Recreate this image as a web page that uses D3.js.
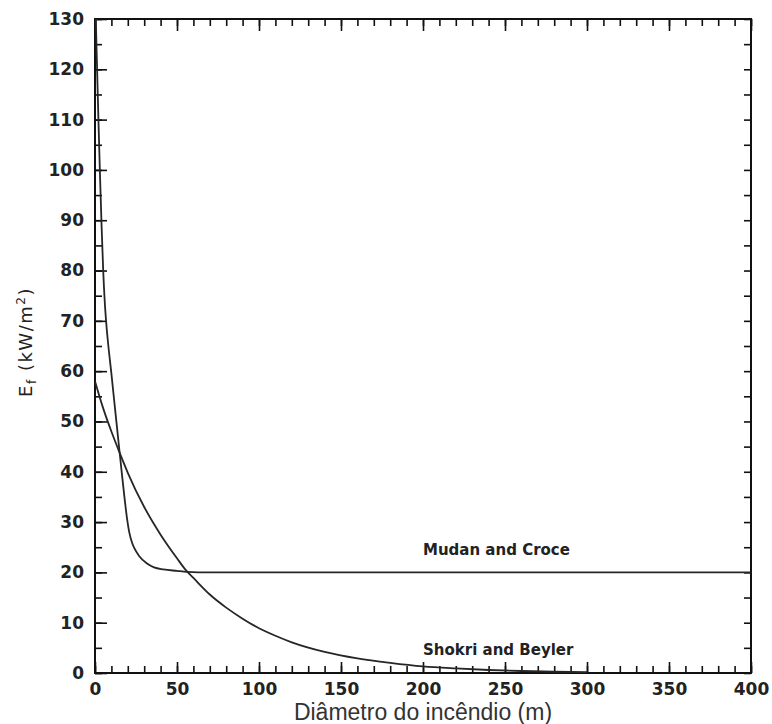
<!DOCTYPE html>
<html>
<head>
<meta charset="utf-8">
<script src="https://cdn.jsdelivr.net/npm/d3@7/dist/d3.min.js"></script>
<style>
  body { margin: 0; background: #fff; }
  .tick text { font-family: "DejaVu Sans", sans-serif; font-weight: bold; font-size: 17px; fill: #222; }
  .tick line { stroke: #111; stroke-width: 1.6; }
</style>
</head>
<body>
<div id="chart-area"></div>
<script>

// Mudan and Croce
var mudanD = [0.5, 1, 2, 3, 4, 5, 6, 7, 8, 10, 12, 14, 16, 18, 19.5, 21, 22.5, 24, 27, 31.5, 36, 41.7, 50, 56, 70, 400];
var mudanE = [130, 123.5, 111, 99.5, 89, 80, 73.5, 69, 65.5, 59.5, 53.2, 47, 40.8, 34.8, 30.8, 27.8, 26, 24.8, 23.2, 21.8, 21, 20.6, 20.3, 20.1, 20, 20];

// Shokri and Beyler
var shokriD = [0, 5, 10, 15, 20, 30, 40, 50, 55, 60, 70, 80, 90, 100, 110, 120, 140, 160, 180, 200, 220, 240, 260, 280, 300];
var shokriE = [58, 52.6, 48, 43.8, 39.8, 33, 27.5, 22.8, 20.6, 18.9, 15.6, 13, 10.8, 8.9, 7.4, 6.1, 4.2, 2.9, 2, 1.3, 0.9, 0.6, 0.4, 0.25, 0.15];

var xMajor = [0, 50, 100, 150, 200, 250, 300, 350, 400];
var xMinor = d3.range(0, 401, 10);
var yMajor = d3.range(0, 131, 10);
var yMinor = d3.range(0, 131, 5);

var labelText = ["Mudan and Croce", "Shokri and Beyler"];
var labelD = [200, 200];
var labelE = [23.5, 3.6];

var margin = { left:95, right:21, top:19, bottom:51 },
    width = 772 - margin.left - margin.right,
    height = 724 - margin.top - margin.bottom;

var svg = d3.select("#chart-area")
    .append("svg")
    .attr("width", width + margin.left + margin.right)
    .attr("height", height + margin.top + margin.bottom);

var g = svg.append("g")
    .attr("transform", "translate(" + margin.left + ", " + margin.top + ")");

var x = d3.scaleLinear().domain([0, 400]).range([0, width]);
var y = d3.scaleLinear().domain([0, 130]).range([height, 0]);

// bottom axis: minor + major (ticks point inward)
g.append("g")
    .attr("transform", "translate(0," + height + ")")
    .call(d3.axisBottom(x).tickValues(xMinor).tickSize(-7).tickFormat(""))
    .call(function(a) { a.select(".domain").remove(); });
g.append("g")
    .attr("transform", "translate(0," + height + ")")
    .call(d3.axisBottom(x).tickValues(xMajor).tickSize(-11).tickPadding(10).tickFormat(d3.format("d")))
    .call(function(a) { a.select(".domain").remove(); });

// top axis, no labels
g.append("g")
    .call(d3.axisTop(x).tickValues(xMinor).tickSize(-7).tickFormat(""))
    .call(function(a) { a.select(".domain").remove(); });
g.append("g")
    .call(d3.axisTop(x).tickValues(xMajor).tickSize(-12).tickFormat(""))
    .call(function(a) { a.select(".domain").remove(); });

// left axis
g.append("g")
    .call(d3.axisLeft(y).tickValues(yMinor).tickSize(-7).tickFormat(""))
    .call(function(a) { a.select(".domain").remove(); });
g.append("g")
    .call(d3.axisLeft(y).tickValues(yMajor).tickSize(-12).tickPadding(11).tickFormat(d3.format("d")))
    .call(function(a) { a.select(".domain").remove(); });

// right axis
g.append("g")
    .attr("transform", "translate(" + width + ",0)")
    .call(d3.axisRight(y).tickValues(yMinor).tickSize(-7).tickFormat(""))
    .call(function(a) { a.select(".domain").remove(); });

// frame
g.append("rect")
    .attr("width", width)
    .attr("height", height)
    .attr("fill", "none")
    .attr("stroke", "#111")
    .attr("stroke-width", 2);

g.append("clipPath").attr("id", "clip")
  .append("rect").attr("width", width).attr("height", height);

var line = d3.line()
    .x(function(d) { return x(d[0]); })
    .y(function(d) { return y(d[1]); })
    .curve(d3.curveMonotoneX);

var curves = [d3.zip(mudanD, mudanE), d3.zip(shokriD, shokriE)];

g.append("g")
    .attr("clip-path", "url(#clip)")
    .selectAll("path")
    .data(curves)
    .enter().append("path")
        .attr("d", line)
        .attr("fill", "none")
        .attr("stroke", "#262626")
        .attr("stroke-width", 1.8);

// curve labels
g.selectAll(".curve-label")
    .data(labelText)
    .enter().append("text")
        .attr("class", "curve-label")
        .attr("x", function(d, i) { return x(labelD[i]); })
        .attr("y", function(d, i) { return y(labelE[i]); })
        .attr("font-family", "DejaVu Sans, sans-serif")
        .attr("font-weight", "bold")
        .attr("font-size", "15px")
        .attr("fill", "#222")
        .text(function(d) { return d; });

// axis titles
svg.append("text")
    .attr("x", margin.left + width / 2)
    .attr("y", 720)
    .attr("text-anchor", "middle")
    .attr("font-family", "Liberation Sans, Arial, sans-serif")
    .attr("font-size", "23px")
    .attr("fill", "#333")
    .text("Diâmetro do incêndio (m)");

var ylab = svg.append("text")
    .attr("transform", "translate(32,342) rotate(-90)")
    .attr("text-anchor", "middle")
    .attr("font-family", "DejaVu Sans, sans-serif")
    .attr("font-size", "18px")
    .attr("letter-spacing", "1.5px")
    .attr("fill", "#222");
ylab.append("tspan").text("E");
ylab.append("tspan").attr("font-size", "12px").attr("dy", 4).text("f");
ylab.append("tspan").attr("dy", -4).text(" (kW/m");
ylab.append("tspan").attr("font-size", "12px").attr("dy", -7).text("2");
ylab.append("tspan").attr("dy", 7).text(")");

</script>
</body>
</html>
